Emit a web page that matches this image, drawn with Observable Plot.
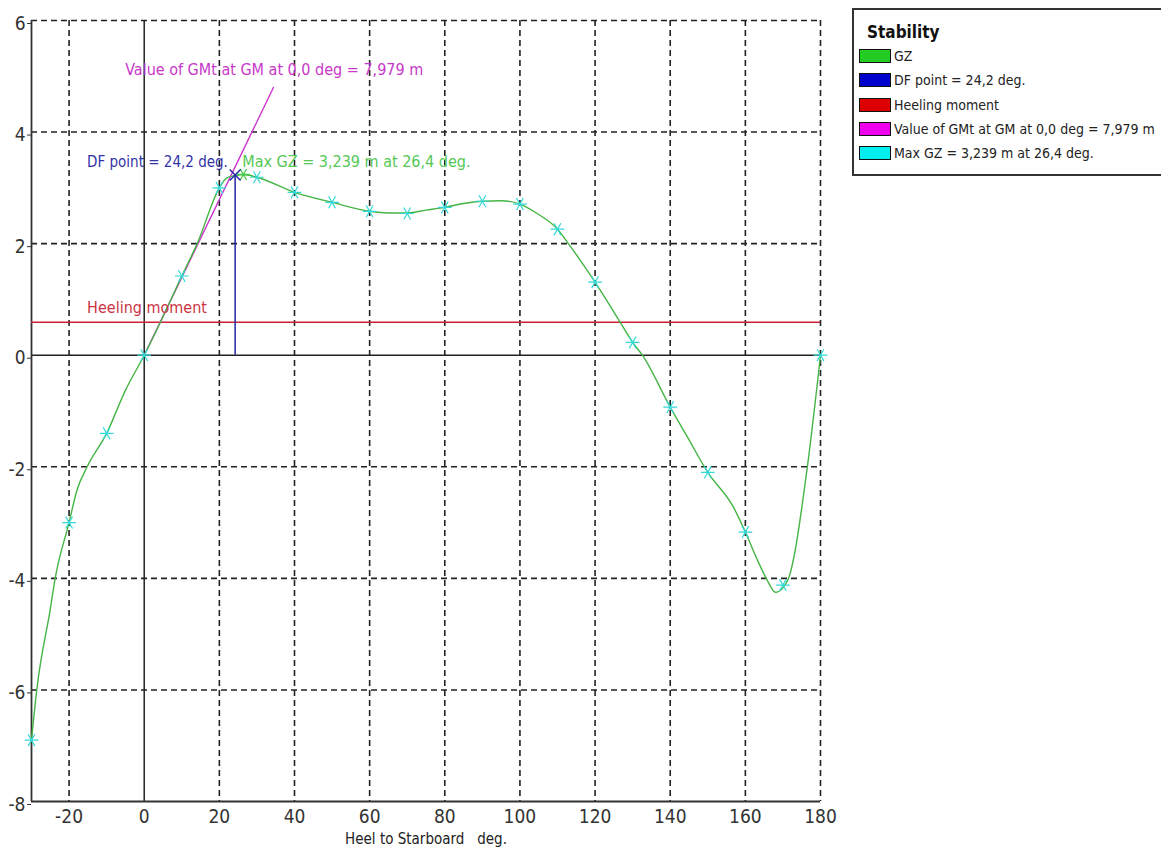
<!DOCTYPE html>
<html>
<head>
<meta charset="utf-8">
<script src="https://cdn.jsdelivr.net/npm/d3@7"></script>
<script src="https://cdn.jsdelivr.net/npm/@observablehq/plot@0.6"></script>
<style>
  html, body { margin: 0; padding: 0; background: #fff; overflow: hidden; }
  #wrap { position: relative; width: 1161px; height: 854px; }
  .nf { font-family: "Liberation Sans Narrow", "Arial Narrow", "DejaVu Sans Condensed", "Liberation Sans", sans-serif; }
  #legend { position: absolute; left: 852px; top: 8px; width: 330px; height: 164px; border: 2px solid #333; background: #fff; }
  #legend .title { position: absolute; left: 13px; top: 12px; font-weight: bold; font-size: 17px; color: #111; }
  #legend .item { position: absolute; left: 5px; height: 16px; display: flex; align-items: center; }
  #legend .sw { width: 30px; height: 12px; border: 1px solid #111; margin-right: 3px; }
  #legend .lab { font-size: 14px; color: #222; white-space: nowrap; }
</style>
</head>
<body>
<div id="wrap"></div>
<script>
// GZ curve (deg, metres)
const gzDeg = [-30, -28.6, -25, -23.7, -20, -17.9, -15.2, -10, -5, 0, 5, 10, 14.1, 20, 22, 24.2, 26.4, 30, 40, 50, 60, 65, 70, 75, 80, 85, 90, 95, 100, 104.6, 110, 112.9, 120, 126.7, 130, 132.6, 140, 144.6, 150, 156.8, 160, 163.2, 165.8, 168, 170, 171.5, 176.5, 180];
const gzVal = [-6.9, -6.0, -4.55, -4.0, -3.0, -2.42, -2.0, -1.4, -0.63, 0, 0.69, 1.42, 2.0, 3.0, 3.18, 3.22, 3.239, 3.19, 2.92, 2.74, 2.58, 2.55, 2.55, 2.6, 2.65, 2.72, 2.76, 2.77, 2.71, 2.54, 2.26, 2.0, 1.31, 0.59, 0.23, 0, -0.93, -1.47, -2.1, -2.72, -3.17, -3.67, -4.03, -4.25, -4.17, -4.0, -2.0, 0];

// GZ markers at every 10 deg
const markDeg = [-30, -20, -10, 0, 10, 20, 30, 40, 50, 60, 70, 80, 90, 100, 110, 120, 130, 140, 150, 160, 170, 180];
const markVal = [-6.9, -3.0, -1.4, 0, 1.42, 3.0, 3.19, 2.92, 2.74, 2.58, 2.54, 2.65, 2.76, 2.71, 2.26, 1.31, 0.23, -0.93, -2.1, -3.17, -4.12, 0];

// Max GZ, DF point, heeling moment, GMt line
const maxGZDeg = [26.4];
const maxGZVal = [3.239];
const dfDeg = [24.2];
const dfVal = [3.23];
const heelingVal = [0.59];
const gmLineDeg = [0, 34.4];
const gmLineVal = [0, 4.8];

// axes
const xTicks = [-20, 0, 20, 40, 60, 80, 100, 120, 140, 160, 180];
const yTicks = [-8, -6, -4, -2, 0, 2, 4, 6];
const xGrid = [-20, 20, 40, 60, 80, 100, 120, 140, 160, 180];
const yGrid = [-6, -4, -2, 2, 4, 6];

const legendLabels = ["GZ", "DF point = 24,2 deg.", "Heeling moment", "Value of GMt at GM at 0,0 deg = 7,979 m", "Max GZ = 3,239 m at 26,4 deg."];
const legendColors = ["#22cc22", "#0000cc", "#dd0000", "#ee00ee", "#00eeee"];

const font = '"Liberation Sans Narrow", "Arial Narrow", "DejaVu Sans Condensed", "Liberation Sans", sans-serif';

const gz = gzDeg.map((d, i) => ({deg: d, v: gzVal[i]}));
const marks = markDeg.map((d, i) => ({deg: d, v: markVal[i]}));
const gmLine = gmLineDeg.map((d, i) => ({deg: d, v: gmLineVal[i]}));

const dash = {stroke: "#222", strokeWidth: 1.6, strokeDasharray: "6,4"};
const fmt = d => String(d);

const chart = Plot.plot({
  width: 1161,
  height: 854,
  marginLeft: 31,
  marginRight: 341,
  marginTop: 20,
  marginBottom: 53,
  style: {fontFamily: font, background: "transparent", color: "#222"},
  x: {domain: [-30, 180], label: null},
  y: {domain: [-8, 6], label: null},
  marks: [
    Plot.ruleX(xGrid, {...dash}),
    Plot.ruleY(yGrid, {...dash}),
    Plot.ruleX([0], {stroke: "#222", strokeWidth: 1.5}),
    Plot.ruleY([0], {stroke: "#222", strokeWidth: 1.5}),
    Plot.ruleX([-30], {stroke: "#333", strokeWidth: 1.8}),
    Plot.ruleY([-8], {stroke: "#333", strokeWidth: 1.8}),
    Plot.axisX({ticks: xTicks, tickFormat: fmt, tickSize: 0, tickPadding: 8, fontSize: 19, label: null, fill: "#333"}),
    Plot.axisY({ticks: yTicks, tickFormat: fmt, tickSize: 4, tickPadding: 2, fontSize: 19, label: null, dy: 3, fill: "#333", stroke: "#333"}),
    Plot.text(["Heel to Starboard\u00a0\u00a0 deg."], {frameAnchor: "bottom", dy: 42, fontSize: 15, fill: "#222"}),
    Plot.ruleY(heelingVal, {stroke: "#cc2233", strokeWidth: 1.5}),
    Plot.line(gmLine, {x: "deg", y: "v", stroke: "#cc33cc", strokeWidth: 1.4}),
    Plot.ruleX(dfDeg, {y1: 0, y2: dfVal[0], stroke: "#2222aa", strokeWidth: 1.5}),
    Plot.line(gz, {x: "deg", y: "v", curve: "monotone-x", stroke: "#44b544", strokeWidth: 1.4}),
    Plot.dot(marks, {x: "deg", y: "v", symbol: "asterisk", rotate: 90, r: 6.5, stroke: "#35d8d8", strokeWidth: 1.2}),
    Plot.dot(maxGZDeg, {x: d => d, y: (d, i) => maxGZVal[i], symbol: "asterisk", rotate: 90, r: 6, stroke: "#44cc44", strokeWidth: 1.3}),
    Plot.dot(dfDeg, {x: d => d, y: (d, i) => dfVal[i], symbol: "times", r: 5, stroke: "#2222aa", strokeWidth: 1.4}),
    Plot.text(["Value of GMt at GM at 0,0 deg = 7,979 m"], {x: -5.06, y: 5.12, textAnchor: "start", fontSize: 16, fill: "#c838c8"}),
    Plot.text(["DF point = 24,2 deg."], {x: -15.2, y: 3.46, textAnchor: "start", fontSize: 15, fill: "#3333a8"}),
    Plot.text(["Max GZ = 3,239 m at 26,4 deg."], {x: 26.1, y: 3.46, textAnchor: "start", fontSize: 16, fill: "#55c855"}),
    Plot.text(["Heeling moment"], {x: -15.2, y: 0.84, textAnchor: "start", fontSize: 16, fill: "#cc3344"})
  ]
});

const wrap = document.getElementById("wrap");
wrap.appendChild(chart);

const leg = document.createElement("div");
leg.id = "legend";
leg.className = "nf";
const title = document.createElement("div");
title.className = "title";
title.textContent = "Stability";
leg.appendChild(title);
legendLabels.forEach((lab, i) => {
  const it = document.createElement("div");
  it.className = "item";
  it.style.top = (38 + i * 24.3) + "px";
  const sw = document.createElement("div");
  sw.className = "sw";
  sw.style.background = legendColors[i];
  const t = document.createElement("span");
  t.className = "lab";
  t.textContent = lab;
  it.appendChild(sw);
  it.appendChild(t);
  leg.appendChild(it);
});
wrap.appendChild(leg);
</script>
</body>
</html>
